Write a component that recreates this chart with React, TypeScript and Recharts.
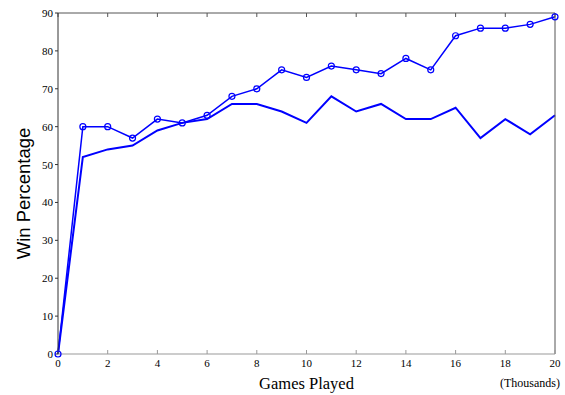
import React from 'react';
import { LineChart, Line, XAxis, YAxis, Label } from 'recharts';

// games played, in thousands
const GAMES = [0, 1, 2, 3, 4, 5, 6, 7, 8, 9, 10, 11, 12, 13, 14, 15, 16, 17, 18, 19, 20];
// win percentage, run drawn with circle markers
const WIN_MARKED = [0, 60, 60, 57, 62, 61, 63, 68, 70, 75, 73, 76, 75, 74, 78, 75, 84, 86, 86, 87, 89];
// win percentage, plain run
const WIN_PLAIN = [0, 52, 54, 55, 59, 61, 62, 66, 66, 64, 61, 68, 64, 66, 62, 62, 65, 57, 62, 58, 63];

const X_TICKS = [0, 2, 4, 6, 8, 10, 12, 14, 16, 18, 20];
const Y_TICKS = [0, 10, 20, 30, 40, 50, 60, 70, 80, 90];

const data = GAMES.map((g, i) => ({ games: g, marked: WIN_MARKED[i], plain: WIN_PLAIN[i] }));

const BLUE = '#0000ff';
const SERIF = "'Liberation Serif', 'Times New Roman', 'DejaVu Serif', serif";

const SerifTick = (props: any) => {
  const { x, y, payload, textAnchor, verticalAnchor } = props;
  const dy = verticalAnchor === 'start' ? 8 : 4;
  return (
    <text x={x} y={y} dy={dy} textAnchor={textAnchor} style={{ fontFamily: SERIF }} fontSize={11} fill="#000">
      {payload.value}
    </text>
  );
};

// frame ticks carry no labels
const NoLabel = () => <g />;

const YTitle = (props: any) => {
  const { x, y, height } = props.viewBox;
  const cx = x + 29.5;
  const cy = y + height / 2 + 10;
  return (
    <text x={cx} y={cy} transform={`rotate(-90, ${cx}, ${cy})`} textAnchor="middle"
      style={{ fontFamily: "'Liberation Sans', Arial, sans-serif" }} fontSize={18.5} fill="#000">
      Win Percentage
    </text>
  );
};

const XTitle = (props: any) => {
  const { x, y, width } = props.viewBox;
  return (
    <g style={{ fontFamily: SERIF }} fill="#000">
      <text x={x + width / 2} y={y + 35} textAnchor="middle" fontSize={16.5}>Games Played</text>
      <text x={x + width + 5} y={y + 33} textAnchor="end" fontSize={12}>(Thousands)</text>
    </g>
  );
};

export default function App() {
  return (
    <div style={{ position: 'absolute', left: 0, top: 0, width: 565, height: 395, background: '#fff' }}>
      <LineChart width={565} height={395} data={data} margin={{ top: 12, right: 9, bottom: 0, left: 0 }}>
        {/* frame: top and right edges, ticks pointing inward */}
        <XAxis xAxisId="top" orientation="top" dataKey="games" type="number" domain={[0, 20]} ticks={X_TICKS}
          height={1} tick={NoLabel} tickSize={-4}
          axisLine={{ stroke: '#555' }} tickLine={{ stroke: '#555' }} />
        <YAxis yAxisId="right" orientation="right" type="number" domain={[0, 90]} ticks={Y_TICKS}
          width={1} tick={NoLabel} tickSize={-5}
          axisLine={{ stroke: '#555' }} tickLine={{ stroke: '#555' }} />

        <XAxis dataKey="games" type="number" domain={[0, 20]} ticks={X_TICKS} height={41}
          tickSize={-4} tickMargin={9} tick={<SerifTick />}
          axisLine={{ stroke: '#999' }} tickLine={{ stroke: '#999' }}>
          <Label content={XTitle} />
        </XAxis>
        <YAxis type="number" domain={[0, 90]} ticks={Y_TICKS} width={58} tickSize={3} tickMargin={2}
          tick={<SerifTick />} axisLine={{ stroke: '#333' }} tickLine={{ stroke: '#333' }}>
          <Label content={YTitle} />
        </YAxis>

        <Line dataKey="plain" stroke={BLUE} strokeWidth={2} dot={false} isAnimationActive={false} />
        <Line dataKey="marked" stroke={BLUE} strokeWidth={1.5}
          dot={{ r: 3, stroke: BLUE, strokeWidth: 1.2, fill: 'none' }} isAnimationActive={false} />
      </LineChart>
    </div>
  );
}
